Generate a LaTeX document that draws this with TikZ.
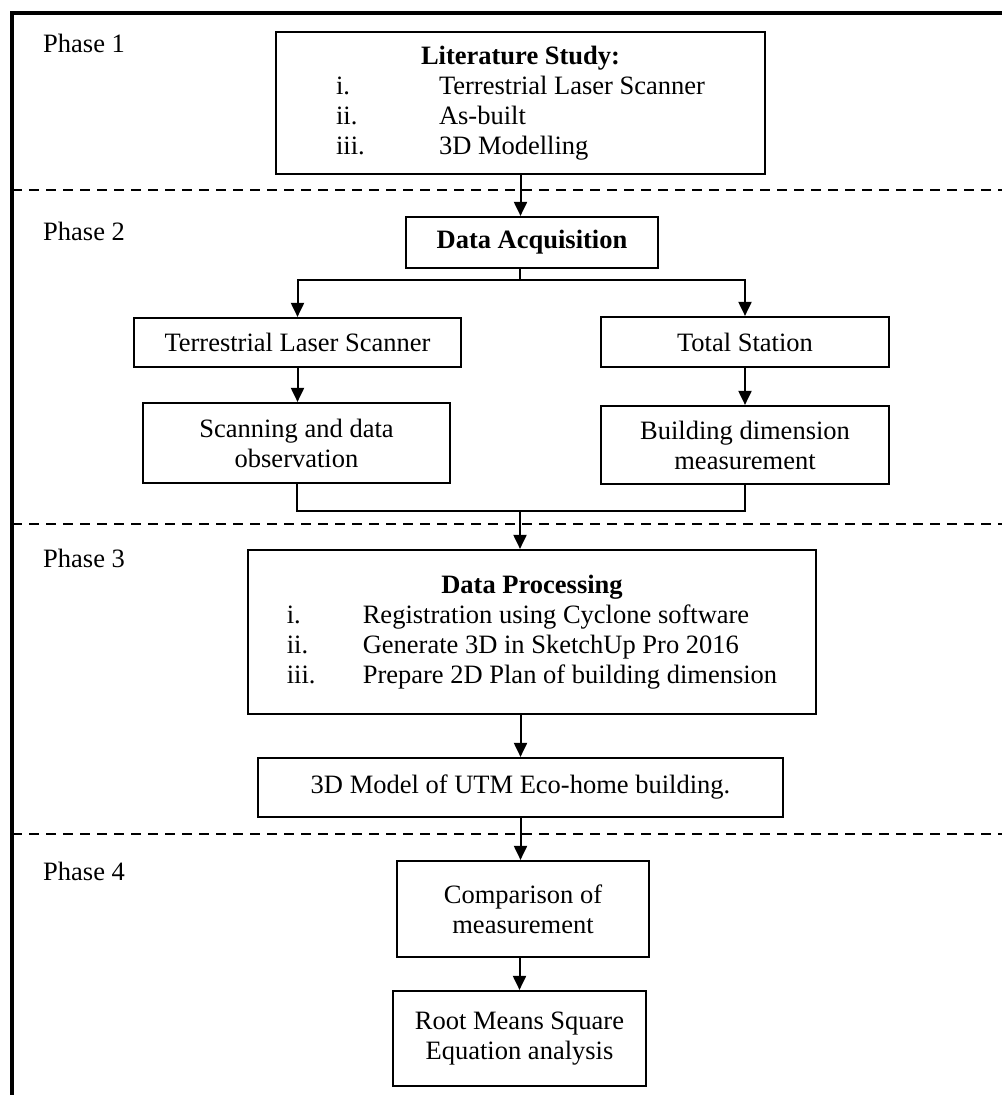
\documentclass[tikz,border=0pt]{standalone}
\usepackage{fontspec}
\setmainfont{Liberation Serif}
\usetikzlibrary{arrows.meta}
\begin{document}
\begin{tikzpicture}[x=1pt,y=-1pt,
  box/.style={draw, line width=2.2pt, inner sep=0pt, align=center,
    font=\fontsize{26.5}{30}\selectfont},
  phase/.style={anchor=west, inner sep=0pt, font=\fontsize{26.5}{30}\selectfont},
  conn/.style={line width=2pt},
  arr/.style={conn, -{Triangle[length=14pt,width=13pt]}},
  sep/.style={line width=2.2pt, dash pattern=on 10pt off 7pt}]
\useasboundingbox (0,0) rectangle (1002,1095);
% frame
\draw[line width=4.5pt] (12,1095) -- (12,13) -- (1002,13);
% phase separators
\draw[sep] (12,190) -- (1002,190);
\draw[sep] (12,524) -- (1002,524);
\draw[sep] (12,834) -- (1002,834);
% phase labels
\node[phase] (p1) at (43,43) {Phase 1};
\node[phase] (p2) at (43,231) {Phase 2};
\node[phase] (p3) at (43,558) {Phase 3};
\node[phase] (p4) at (43,871) {Phase 4};
% boxes
\node[box, minimum width=489pt, minimum height=142pt] (lit) at (520.5,103)
  {\begin{tabular}{@{}p{103pt}@{}l@{}}
   \multicolumn{2}{c}{\textbf{Literature Study:}}\\
   i. & Terrestrial Laser Scanner\\
   ii. & As-built\\
   iii. & 3D Modelling
   \end{tabular}};
\node[box, minimum width=252pt, minimum height=51pt] (da) at (532,242.5) {\textbf{Data Acquisition}};
\node[box, minimum width=327pt, minimum height=49pt] (tls) at (297.5,342.5) {Terrestrial Laser Scanner};
\node[box, minimum width=288pt, minimum height=50pt] (ts) at (745,342) {Total Station};
\node[box, minimum width=307pt, minimum height=80pt] (scan) at (296.5,443) {Scanning and data\\observation};
\node[box, minimum width=288pt, minimum height=78pt] (bld) at (745,445) {Building dimension\\measurement};
\node[box, minimum width=568pt, minimum height=164pt] (dp) at (532,632)
  {\begin{tabular}{@{}p{76pt}@{}l@{}}
   \multicolumn{2}{c}{\textbf{Data Processing}}\\
   i. & Registration using Cyclone software\\
   ii. & Generate 3D in SketchUp Pro 2016\\
   iii. & Prepare 2D Plan of building dimension
   \end{tabular}};
\node[box, minimum width=525pt, minimum height=59pt] (model) at (520.5,787.5) {3D Model of UTM Eco-home building.};
\node[box, minimum width=252pt, minimum height=96pt] (comp) at (523,909) {Comparison of\\measurement};
\node[box, minimum width=253pt, minimum height=95pt] (rms) at (519.5,1038.5) {Root Means Square\\Equation analysis};
% connectors
\coordinate (br) at (520,280);
\coordinate (mg) at (520,511);
\draw[arr] (lit.south) -- (lit.south |- da.north);
\draw[conn] (br |- da.south) -- (br);
\draw[arr] (br) -| (tls.north);
\draw[arr] (br) -| (ts.north);
\draw[arr] (tls.south) -- (tls.south |- scan.north);
\draw[arr] (ts.south) -- (bld.north);
\draw[conn] (scan.south) |- (bld.south |- mg) -- (bld.south);
\draw[arr] (mg) -- (mg |- dp.north);
\draw[arr] (model.north |- dp.south) -- (model.north);
\draw[arr] (model.south) -- (model.south |- comp.north);
\draw[arr] (comp.south -| rms.north) -- (rms.north);
\end{tikzpicture}
\end{document}
